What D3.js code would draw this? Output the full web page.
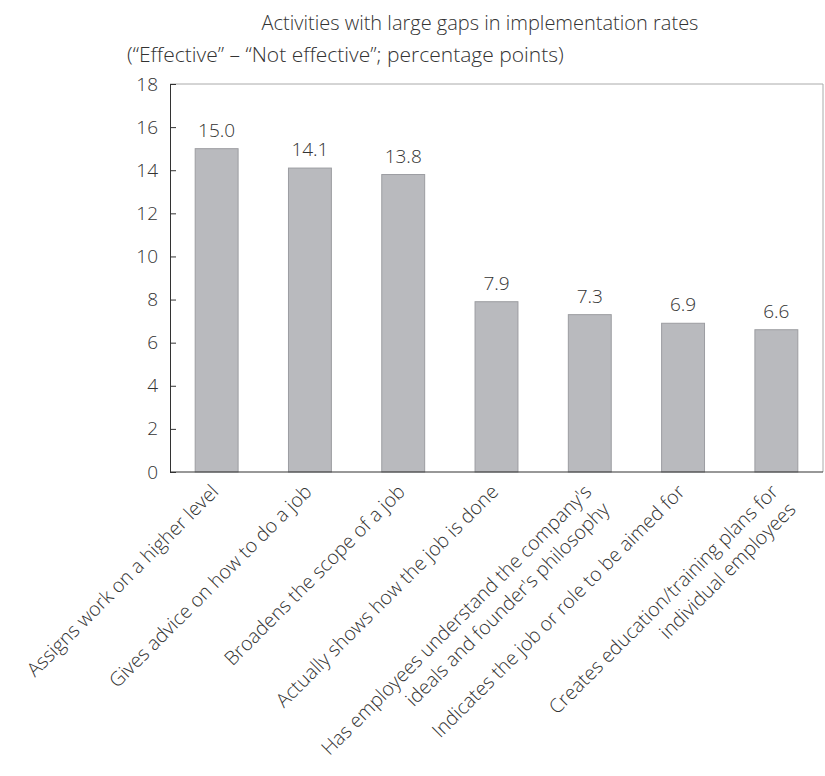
<!DOCTYPE html>
<html><head><meta charset="utf-8">
<script src="https://cdn.jsdelivr.net/npm/d3@7"></script>
<style>
body{margin:0;background:#fff;}
svg text{font-family:"Open Sans","Liberation Sans",sans-serif;font-weight:300;fill:#333;}
</style></head>
<body><svg id="c" width="825" height="776"></svg>
<script>
const categories = [
  ["Assigns work on a higher level"],
  ["Gives advice on how to do a job"],
  ["Broadens the scope of a job"],
  ["Actually shows how the job is done"],
  ["Has employees understand the company's","ideals and founder's philosophy"],
  ["Indicates the job or role to be aimed for"],
  ["Creates education/training plans for","individual employees"]
];
const values = [15.0, 14.1, 13.8, 7.9, 7.3, 6.9, 6.6];
const yTicks = [0,2,4,6,8,10,12,14,16,18];
const title = "Activities with large gaps in implementation rates";
const subtitle = "(\u201CEffective\u201D \u2013 \u201CNot effective\u201D; percentage points)";

const svg = d3.select("#c");
const L = 170, R = 823, T = 84, B = 472;
const x = d3.scaleBand().domain(d3.range(values.length)).range([L, R]).paddingInner(0.54).paddingOuter(0.27);
const y = d3.scaleLinear().domain([0, 18]).range([B, T]);

svg.append("path").attr("d", `M${L},${T}H${R}V${B}`).attr("fill","none").attr("stroke","#aaa").attr("stroke-width",1);

svg.selectAll("rect.bar").data(values).join("rect")
  .attr("x",(d,i)=>x(i)).attr("width",x.bandwidth())
  .attr("y",d=>y(d)).attr("height",d=>B-y(d))
  .attr("fill","#b9babe").attr("stroke","#9c9da1").attr("stroke-width",1);

svg.selectAll("text.val").data(values).join("text")
  .attr("x",(d,i)=>x(i)+x.bandwidth()/2).attr("y",d=>y(d)-12)
  .attr("text-anchor","middle").attr("font-size",19).text(d=>d.toFixed(1));

const ya = svg.append("g").attr("transform",`translate(${L},0)`)
  .call(d3.axisLeft(y).tickValues(yTicks).tickSizeInner(-6).tickSizeOuter(0).tickPadding(12));
ya.attr("font-family",null);
ya.select(".domain").attr("stroke","#333");
ya.selectAll(".tick line").attr("stroke","#333");
ya.selectAll(".tick text").attr("font-size",19).attr("fill","#333");

svg.append("line").attr("x1",L).attr("x2",R).attr("y1",B).attr("y2",B).attr("stroke","#333").attr("stroke-width",1.2);

const xl = svg.selectAll("g.xl").data(categories).join("g")
  .attr("transform",(d,i)=>`translate(${x(i)+x.bandwidth()/2+3},${B+21}) rotate(-45)`);
xl.each(function(lines){
  const g = d3.select(this);
  lines.forEach((t,k)=>{
    g.append("text").attr("x",0).attr("y",k*25).attr("text-anchor","end").attr("font-size",19.5).text(t);
  });
});

svg.append("text").attr("x",480).attr("y",30).attr("text-anchor","middle").attr("font-size",20).text(title);
svg.append("text").attr("x",127).attr("y",62).attr("text-anchor","start").attr("font-size",21).text(subtitle);
</script></body></html>
